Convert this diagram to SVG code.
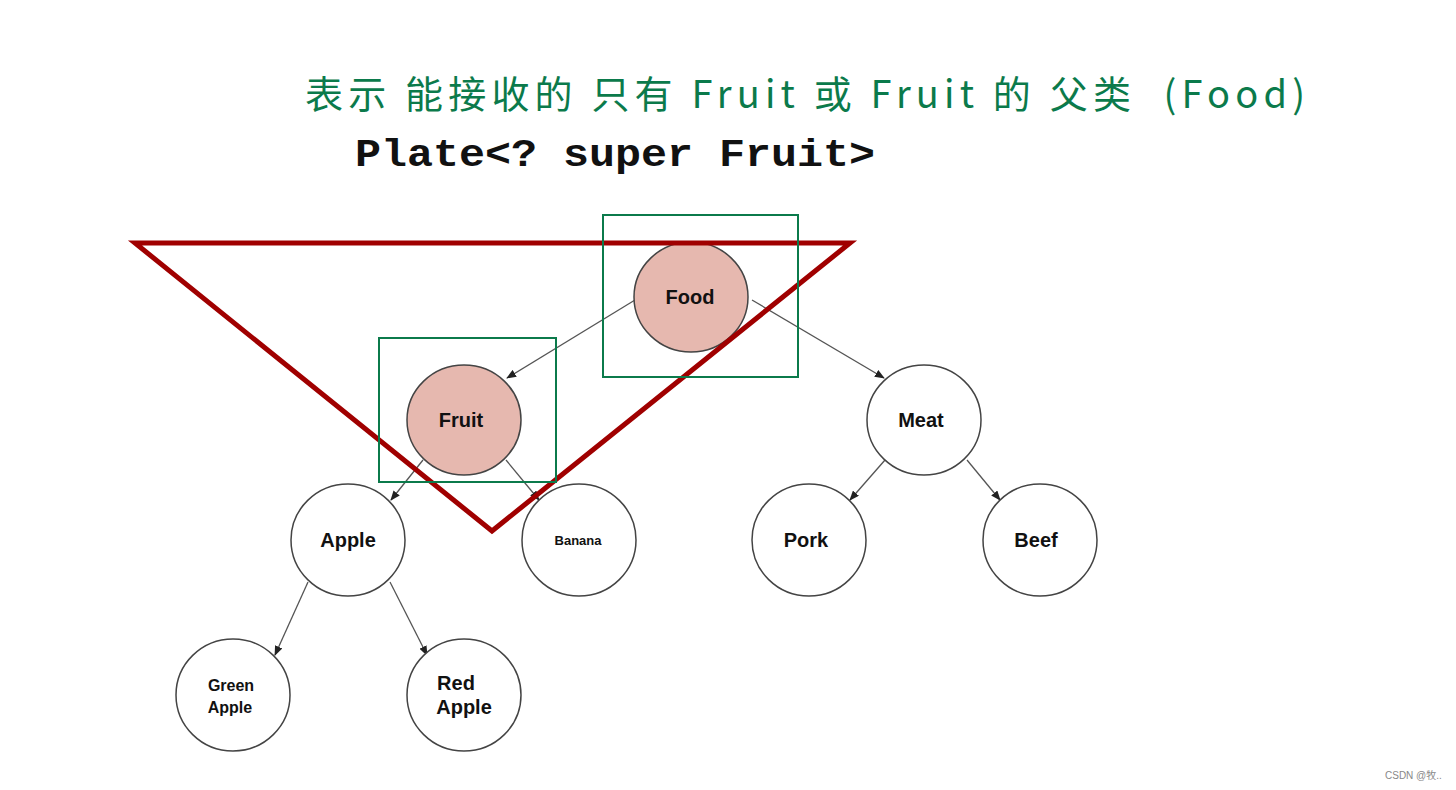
<svg xmlns="http://www.w3.org/2000/svg" width="1456" height="790" viewBox="0 0 1456 790">
<style>
.n{fill:#fff;stroke:#444;stroke-width:1.5}
.h{fill:#e6b8af;stroke:#444;stroke-width:1.5}
.t{font-family:"Liberation Sans",Arial,sans-serif;font-weight:bold;font-size:20px;fill:#111;text-anchor:middle}
.e{stroke:#555;stroke-width:1.3;fill:none;marker-end:url(#a)}
.g{fill:none;stroke:#0b7a4b;stroke-width:2}
</style>
<defs><marker id="a" markerWidth="10" markerHeight="8" refX="9" refY="4" orient="auto" markerUnits="userSpaceOnUse"><path d="M0,0L10,4L0,8z" fill="#222"/></marker></defs>
<rect width="1456" height="790" fill="#fff"/>
<text x="305" y="108" font-family="'Noto Sans CJK SC',sans-serif" font-size="38" fill="#0b7a4b" xml:space="preserve" textLength="1000" lengthAdjust="spacing">表示 能接收的 只有 Fruit 或 Fruit 的 父类  (Food)</text>
<text x="355" y="166" font-family="'Liberation Mono','Courier New',monospace" font-weight="bold" font-size="38" fill="#111" textLength="520" lengthAdjust="spacingAndGlyphs">Plate&lt;? super Fruit&gt;</text>
<g id="connectors">
<line class="e" x1="635" y1="300" x2="507" y2="378"/>
<line class="e" x1="752" y1="300" x2="884" y2="378"/>
<line class="e" x1="423" y1="460" x2="391" y2="500"/>
<line class="e" x1="506" y1="460" x2="539" y2="500"/>
<line class="e" x1="885" y1="460" x2="850" y2="500"/>
<line class="e" x1="967" y1="460" x2="1000" y2="500"/>
<line class="e" x1="308" y1="582" x2="275" y2="655"/>
<line class="e" x1="390" y1="582" x2="427" y2="655"/>
</g>
<g id="food"><ellipse class="h" cx="691" cy="297" rx="57" ry="55"/><text class="t" x="690" y="304">Food</text></g>
<g id="fruit"><ellipse class="h" cx="464" cy="420" rx="57" ry="55"/><text class="t" x="461" y="427">Fruit</text></g>
<g id="meat"><ellipse class="n" cx="924" cy="420" rx="57" ry="55"/><text class="t" x="921" y="427">Meat</text></g>
<g id="apple"><ellipse class="n" cx="348" cy="540" rx="57" ry="56"/><text class="t" x="348" y="547">Apple</text></g>
<g id="banana"><ellipse class="n" cx="579" cy="540" rx="57" ry="56"/><text class="t" x="578" y="545" style="font-size:13px">Banana</text></g>
<g id="pork"><ellipse class="n" cx="809" cy="540" rx="57" ry="56"/><text class="t" x="806" y="547">Pork</text></g>
<g id="beef"><ellipse class="n" cx="1040" cy="540" rx="57" ry="56"/><text class="t" x="1036" y="547">Beef</text></g>
<g id="greenapple"><ellipse class="n" cx="233" cy="695" rx="57" ry="56"/><text class="t" x="231" y="691" style="font-size:16px">Green</text><text class="t" x="230" y="713" style="font-size:16px">Apple</text></g>
<g id="redapple"><ellipse class="n" cx="464" cy="695" rx="57" ry="56"/><text class="t" x="456" y="690">Red</text><text class="t" x="464" y="714">Apple</text></g>
<polygon points="135,243 850,243 492,531" fill="none" stroke="#a00000" stroke-width="5"/>
<rect class="g" x="603" y="215" width="195" height="162"/>
<rect class="g" x="379" y="338" width="177" height="144"/>
<text x="1385" y="779" font-family="'Liberation Sans','Noto Sans CJK SC',sans-serif" font-size="10" fill="#888">CSDN @牧..</text>
</svg>
